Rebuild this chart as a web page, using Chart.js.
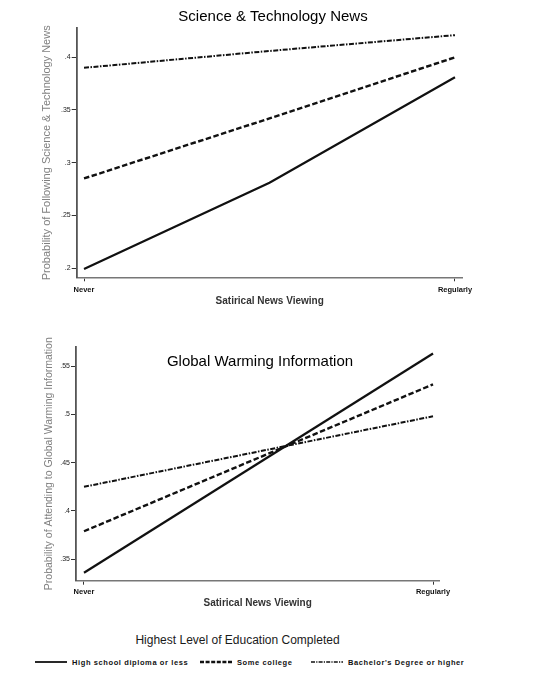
<!DOCTYPE html>
<html>
<head>
<meta charset="utf-8">
<script src="https://cdn.jsdelivr.net/npm/chart.js@4"></script>
<style>
  body { margin: 0; background: #fff; width: 545px; height: 677px; position: relative; overflow: hidden; font-family: 'Liberation Sans', Arial, sans-serif; }
  canvas { position: absolute; left: 0; }
  #top { top: 0; }
  #bottom { top: 315px; }
  #legend-title { position: absolute; left: 0; width: 475px; top: 632px; line-height: 16px; text-align: center; font-size: 12px; color: #1a1a1a; }
  #legend { position: absolute; left: 0; top: 656px; width: 545px; height: 12px; font-size: 7.5px; font-weight: bold; color: #111; white-space: nowrap; letter-spacing: 0.6px; }
  #legend .item { position: absolute; top: 0; height: 12px; display: flex; align-items: center; }
  #legend .item:nth-child(1) { left: 35px; }
  #legend .item:nth-child(2) { left: 200px; }
  #legend .item:nth-child(3) { left: 311px; }
  #legend svg { margin-right: 5px; }
</style>
</head>
<body>
<canvas id="top" width="545" height="315"></canvas>
<canvas id="bottom" width="545" height="315"></canvas>
<div id="legend-title">Highest Level of Education Completed</div>
<div id="legend"></div>
<script>
// Predicted probabilities by satirical news viewing, split by education.
const xLabels = ['Never', 'Regularly'];
const xTickValues = [0, 1];
const seriesNames = ['High school diploma or less', 'Some college', "Bachelor's Degree or higher"];

const sciX = [0, 0.5, 1];
const sciHighSchool = [0.199, 0.281, 0.381];
const sciSomeCollege = [0.285, 0.342, 0.400];
const sciBachelor = [0.390, 0.406, 0.421];
const sciYTicks = [0.2, 0.25, 0.3, 0.35, 0.4];

const gwX = [0, 1];
const gwHighSchool = [0.336, 0.563];
const gwSomeCollege = [0.379, 0.531];
const gwBachelor = [0.425, 0.498];
const gwYTicks = [0.35, 0.4, 0.45, 0.5, 0.55];

const FONT = "'Liberation Sans', Arial, sans-serif";
const styles = [
  { borderDash: [], borderWidth: 2.2 },
  { borderDash: [5.5, 2.5], borderWidth: 2.4 },
  { borderDash: [5, 1.5, 1.5, 1.5], borderWidth: 2 }
];

const panelTitle = {
  id: 'panelTitle',
  afterDraw(chart, args, o) {
    const ctx = chart.ctx;
    ctx.save();
    ctx.font = o.font;
    ctx.fillStyle = o.color;
    ctx.textAlign = 'center';
    ctx.textBaseline = 'middle';
    ctx.fillText(o.text, o.x, o.y);
    ctx.restore();
  }
};

function lineSets(xs, groups) {
  return groups.map((ys, i) => ({
    label: seriesNames[i],
    data: ys.map((y, j) => ({ x: xs[j], y })),
    borderColor: '#111',
    borderWidth: styles[i].borderWidth,
    borderDash: styles[i].borderDash,
    pointRadius: 0,
    tension: 0,
    fill: false
  }));
}

function panelOptions(p) {
  return {
    responsive: false,
    animation: false,
    events: [],
    layout: { padding: { left: p.padL, top: p.top, right: p.padR, bottom: p.padB } },
    plugins: {
      legend: { display: false },
      tooltip: { enabled: false },
      panelTitle: { text: p.title, x: p.titleX, y: p.titleY, font: '15px ' + FONT, color: '#000' }
    },
    scales: {
      x: {
        type: 'linear', min: p.xMin, max: p.xMax,
        afterBuildTicks: (s) => { s.ticks = xTickValues.map((v) => ({ value: v })); },
        afterFit: (s) => { s.height = p.xH; },
        grid: { drawOnChartArea: false, color: '#333', tickLength: 4, lineWidth: 1 },
        border: { color: '#777', width: 1.6 },
        ticks: {
          autoSkip: false, maxRotation: 0, padding: p.xPad, color: '#111',
          font: { family: FONT, size: 7.5, weight: 'bold' },
          callback: (v) => { const i = xTickValues.indexOf(v); return i >= 0 ? xLabels[i] : ''; }
        },
        title: { display: true, text: 'Satirical News Viewing', color: '#333', padding: 0, font: { family: FONT, size: 10, weight: 'bold' } }
      },
      y: {
        type: 'linear', min: p.yMin, max: p.yMax,
        afterBuildTicks: (s) => { s.ticks = p.yTicks.map((v) => ({ value: v })); },
        afterFit: (s) => { s.width = p.yW; },
        grid: { drawOnChartArea: false, color: '#333', tickLength: 5, lineWidth: 1 },
        border: { color: '#555', width: 1.8 },
        ticks: {
          padding: 1, color: '#222',
          font: { family: FONT, size: 7 },
          callback: (v) => String(v).replace(/^0/, '')
        },
        title: { display: true, text: p.yTitle, color: '#808080', padding: 0, font: { family: FONT, size: p.yTitleSize } }
      }
    }
  };
}

new Chart(document.getElementById('top'), {
  type: 'line',
  data: { datasets: lineSets(sciX, [sciHighSchool, sciSomeCollege, sciBachelor]) },
  options: panelOptions({
    padL: 40, top: 28.3, padR: 82.3, padB: 8, yW: 36.7, xH: 29.7, xPad: 4.5,
    xMin: -0.0197, xMax: 1.0208, yMin: 0.1912, yMax: 0.4275, yTicks: sciYTicks,
    yTitle: 'Probability of Following Science & Technology News', yTitleSize: 11,
    title: 'Science & Technology News', titleX: 273, titleY: 17
  }),
  plugins: [panelTitle]
});

new Chart(document.getElementById('bottom'), {
  type: 'line',
  data: { datasets: lineSets(gwX, [gwHighSchool, gwSomeCollege, gwBachelor]) },
  options: panelOptions({
    padL: 42.7, top: 31.7, padR: 105.7, padB: 21, yW: 33.3, xH: 28.3, xPad: 3,
    xMin: -0.0229, xMax: 1.018, yMin: 0.3278, yMax: 0.570, yTicks: gwYTicks,
    yTitle: 'Probability of Attending to Global Warming Information', yTitleSize: 10.5,
    title: 'Global Warming Information', titleX: 260, titleY: 47
  }),
  plugins: [panelTitle]
});

// legend row
const legendDash = ['', '4 1.6', '4 1.2 1.2 1.2'];
const legendWidth = [1.8, 2.4, 1.5];
document.getElementById('legend').innerHTML = seriesNames.map((n, i) =>
  `<span class="item"><svg width="32" height="6"><line x1="0" y1="3" x2="32" y2="3" stroke="#111" stroke-width="${legendWidth[i]}" stroke-dasharray="${legendDash[i]}"/></svg>${n}</span>`
).join('');
</script>
</body>
</html>
